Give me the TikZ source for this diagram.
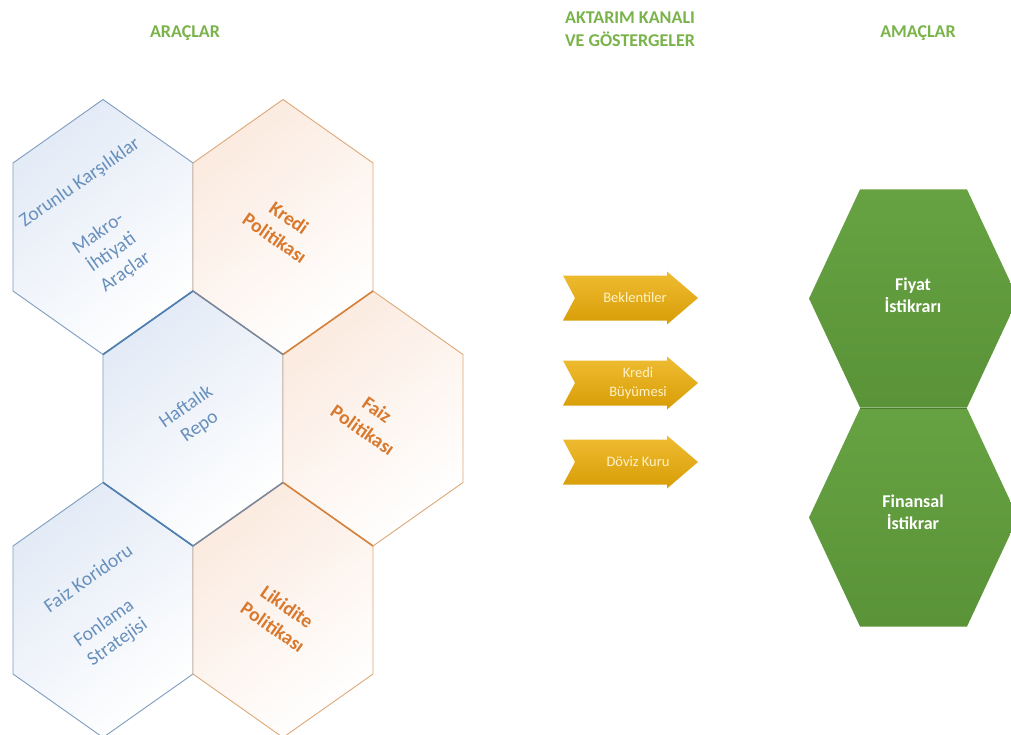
\documentclass[tikz,border=0pt]{standalone}
\usepackage{fontspec}
\setmainfont{Carlito}
\definecolor{hdgreen}{HTML}{7AB34A}
\definecolor{bluetxt}{HTML}{6890BC}
\definecolor{blueedge}{HTML}{7F9DBF}
\definecolor{bluedark}{HTML}{4F7EB0}
\definecolor{bluefill}{HTML}{E2EAF6}
\definecolor{orgtxt}{HTML}{D8792E}
\definecolor{orgedge}{HTML}{DDA878}
\definecolor{orgdark}{HTML}{D5823C}
\definecolor{orgfill}{HTML}{FBEADF}
\definecolor{mixedge}{HTML}{7A8699}
\definecolor{arrtop}{HTML}{EFBC32}
\definecolor{arrbot}{HTML}{D89D06}
\definecolor{arrtxt}{HTML}{FFF2C6}
\definecolor{grnA}{HTML}{66A242}
\definecolor{grnB}{HTML}{5A9338}
\newcommand\vhex[2]{(#1,#2-127.5) -- (#1+90,#2-64) -- (#1+90,#2+64) -- (#1,#2+127.5) -- (#1-90,#2+64) -- (#1-90,#2-64) -- cycle}
\newcommand\fhex[2]{(#1-53.5,#2-109) -- (#1+53.5,#2-109) -- (#1+104.5,#2) -- (#1+53.5,#2+109) -- (#1-53.5,#2+109) -- (#1-104.5,#2) -- cycle}
\newcommand\chev[1]{(563,#1-22.5) -- (667,#1-22.5) -- (667,#1-26.5) -- (698,#1) -- (667,#1+26.5) -- (667,#1+22.5) -- (563,#1+22.5) -- (575,#1) -- cycle}
\begin{document}
\begin{tikzpicture}[x=1pt,y=-1pt,
  header/.style={text=hdgreen, font=\fontsize{18}{22.5}\selectfont\bfseries, align=center, inner sep=0pt},
  bluehex/.style={top color=bluefill, bottom color=white, shading angle=40, draw=blueedge, line width=0.9pt},
  orghex/.style={top color=orgfill, bottom color=white, shading angle=40, draw=orgedge, line width=0.9pt},
  bluetext/.style={text=bluetxt, font=\fontsize{19.5}{23.5}\selectfont, align=center, inner sep=0pt},
  orgtext/.style={text=orgtxt, font=\fontsize{19.5}{25}\selectfont\bfseries, align=center, inner sep=0pt},
  arrowshape/.style={top color=arrtop, bottom color=arrbot},
  arrowtext/.style={text=arrtxt, font=\fontsize{14.5}{19}\selectfont, align=center, inner sep=0pt},
  greenhex/.style={top color=grnA, bottom color=grnB},
  greentext/.style={text=white, font=\fontsize{18}{22}\selectfont\bfseries, align=center, inner sep=0pt}
]
\useasboundingbox (0,0) rectangle (1011,735);
\fill[white] (0,0) rectangle (1011,735);

% headers
\node[header] (h1) at (185,33) {ARAÇLAR};
\node[header] (h2) at (630,29) {AKTARIM KANALI\\VE GÖSTERGELER};
\node[header] (h3) at (918,33) {AMAÇLAR};

% left honeycomb
\path[bluehex] \vhex{103}{227};
\path[orghex] \vhex{283}{227};
\path[bluehex] \vhex{193}{418.5};
\path[orghex] \vhex{373}{418.5};
\path[bluehex] \vhex{103}{610};
\path[orghex] \vhex{283}{610};

% shared inner edges
\draw[bluedark, line width=1.7pt] (103,354.5) -- (193,291);
\draw[bluedark, line width=1.7pt] (103,482.5) -- (193,546);
\draw[orgdark, line width=1.6pt] (283,354.5) -- (373,291);
\draw[orgdark, line width=1.6pt] (283,482.5) -- (373,546);
\draw[mixedge, line width=1.5pt] (193,291) -- (283,354.5);
\draw[mixedge, line width=1.5pt] (283,482.5) -- (193,546);

\node[bluetext, rotate=35] (zk) at (80,183) {Zorunlu Karşılıklar};
\node[bluetext, rotate=35] (mia) at (112,253) {Makro-\\İhtiyati\\Araçlar};
\node[orgtext, rotate=-35] (kp) at (282,228) {Kredi\\Politikası};
\node[bluetext, rotate=35] (hr) at (193,417) {Haftalık\\Repo};
\node[orgtext, rotate=-35] (fp) at (370,420) {Faiz\\Politikası};
\node[bluetext, rotate=35] (fk) at (88,578) {Faiz Koridoru};
\node[bluetext, rotate=35] (fs) at (111,633) {Fonlama\\Stratejisi};
\node[orgtext, rotate=-35] (lp) at (280,617) {Likidite\\Politikası};

% middle chevrons
\path[arrowshape] \chev{298};
\path[arrowshape] \chev{383};
\path[arrowshape] \chev{462};
\node[arrowtext] (a1) at (635,298) {Beklentiler};
\node[arrowtext] (a2) at (638,383) {Kredi\\Büyümesi};
\node[arrowtext] (a3) at (638,462) {Döviz Kuru};

% right goals
\path[greenhex] \fhex{913.5}{298.5};
\path[greenhex] \fhex{913.5}{517.5};
\draw[grnB!85!black, line width=0.8pt] (860,408) -- (967,408);
\node[greentext] (g1) at (913,295) {Fiyat\\İstikrarı};
\node[greentext] (g2) at (913,512) {Finansal\\İstikrar};
\end{tikzpicture}
\end{document}
